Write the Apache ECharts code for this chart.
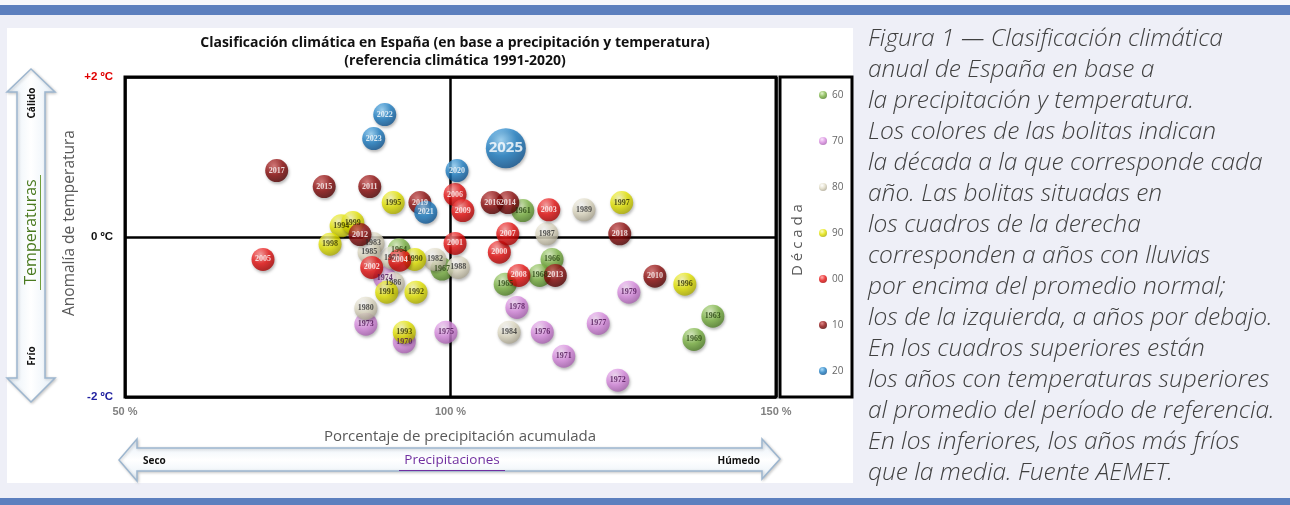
<!DOCTYPE html>
<html><head><meta charset="utf-8">
<script src="https://cdn.jsdelivr.net/npm/echarts@6/dist/echarts.min.js"></script>
<style>html,body{margin:0;padding:0;background:#eeeff7;}#c{width:1290px;height:505px;}</style>
</head><body><div id="c"></div>
<script>
// [year, precipitation %, temperature anomaly ºC]
const d60 = [[1961,111.1,0.33],[1963,140.3,-0.99],[1964,92.1,-0.16],[1965,108.4,-0.59],[1966,115.6,-0.28],[1967,98.7,-0.40],[1968,113.7,-0.48],[1969,137.4,-1.28]];
const d70 = [[1970,92.9,-1.31],[1971,117.4,-1.49],[1972,125.7,-1.79],[1973,87.0,-1.09],[1974,89.9,-0.51],[1975,99.3,-1.19],[1976,114.1,-1.19],[1977,122.7,-1.08],[1978,110.2,-0.88],[1979,127.4,-0.69]];
const d80 = [[1980,87.0,-0.89],[1981,91.0,-0.26],[1982,97.6,-0.28],[1983,88.1,-0.08],[1984,109.0,-1.19],[1985,87.5,-0.19],[1986,91.2,-0.58],[1987,114.8,0.04],[1988,101.2,-0.38],[1989,120.5,0.34]];
const d90 = [[1990,94.5,-0.28],[1991,90.2,-0.69],[1992,94.7,-0.69],[1993,92.9,-1.19],[1994,83.2,0.14],[1995,91.2,0.43],[1996,136.0,-0.59],[1997,126.3,0.43],[1998,81.5,-0.09],[1999,85.0,0.18]];
const d00 = [[2000,107.5,-0.19],[2001,100.7,-0.08],[2002,87.9,-0.38],[2003,115.1,0.34],[2004,92.2,-0.29],[2005,71.2,-0.28],[2006,100.7,0.53],[2007,108.8,0.04],[2008,110.5,-0.48],[2009,101.9,0.33]];
const d10 = [[2010,131.4,-0.49],[2011,87.6,0.63],[2012,86.1,0.03],[2013,116.1,-0.48],[2014,108.8,0.43],[2015,80.6,0.63],[2016,106.4,0.43],[2017,73.3,0.83],[2018,126.0,0.04],[2019,95.3,0.43]];
const d20 = [[2020,101.0,0.83],[2021,96.2,0.31],[2022,89.9,1.53],[2023,88.2,1.23],[2025,108.5,1.11]];
const decadeNames = ['60','70','80','90','00','10','20'];
const xTickValues = [50,100,150];
const xTickLabels = ['50 %','100 %','150 %'];
const yTickValues = [-2,0,2];
const yTickLabels = ['-2 ºC','0 ºC','+2 ºC'];
const highlightYear = 2025;

const decadeData = [d60,d70,d80,d90,d00,d10,d20];
const pal = [
  {b:'#7cb444',l:'#dcf2c0',d:'#477520',t:'#1e3a08'},
  {b:'#d98be0',l:'#f8e0fa',d:'#a05aa8',t:'#4a1050'},
  {b:'#e0dbc4',l:'#ffffff',d:'#a29c88',t:'#2a2a2a'},
  {b:'#e4e400',l:'#fcfcb8',d:'#a3a300',t:'#2a2a00'},
  {b:'#e81212',l:'#ff9c9c',d:'#9e0000',t:'#ffffff'},
  {b:'#8c0c0c',l:'#d86a6a',d:'#480000',t:'#ffffff'},
  {b:'#1f7fc4',l:'#96d4fa',d:'#0c4c86',t:'#ffffff'}
];
function ball(p){return {type:'radial',x:0.38,y:0.3,r:0.78,colorStops:[{offset:0,color:p.l},{offset:0.5,color:p.b},{offset:1,color:p.d}]};}

const series = decadeData.map((arr,i)=>({
  type:'scatter', name:decadeNames[i], symbolSize:23,
  itemStyle:{color:ball(pal[i]),shadowBlur:3,shadowColor:'rgba(0,0,0,0.35)',shadowOffsetX:1,shadowOffsetY:2},
  label:{show:true,position:'inside',formatter:p=>String(p.data.value[2]),fontSize:8,fontWeight:'bold',fontFamily:'Liberation Serif',color:pal[i].t},
  emphasis:{disabled:true},
  data:arr.map(r=>{
    const it={value:[r[1],r[2],r[0]]};
    if(r[0]===highlightYear){it.symbolSize=40;it.label={fontSize:15,fontFamily:'Open Sans',fontWeight:'bold'};}
    return it;
  })
}));

const arrowStroke='#9db6cf';
const arrowFill={type:'linear',x:0,y:0,x2:1,y2:0,colorStops:[{offset:0,color:'#e4eef7'},{offset:0.5,color:'#ffffff'},{offset:1,color:'#e4eef7'}]};
const arrowFillH={type:'linear',x:0,y:0,x2:0,y2:1,colorStops:[{offset:0,color:'#e4eef7'},{offset:0.5,color:'#ffffff'},{offset:1,color:'#e4eef7'}]};

const caption=['Figura 1 — Clasificación climática','anual de España en base a','la precipitación y temperatura.','Los colores de las bolitas indican','la década a la que corresponde cada','año. Las bolitas situadas en','los cuadros de la derecha','corresponden a años con lluvias','por encima del promedio normal;','los de la izquierda, a años por debajo.','En los cuadros superiores están','los años con temperaturas superiores','al promedio del período de referencia.','En los inferiores, los años más fríos','que la media. Fuente AEMET.'];

// fit caption font so that its widest line spans the same width as in the reference
const capFont='Open Sans';
const mctx=document.createElement('canvas').getContext('2d');
mctx.font='italic 300 100px "'+capFont+'"';
const widest=Math.max(...caption.map(s=>mctx.measureText(s).width));
const capSize=Math.max(16,Math.min(28,100*407/widest));

const chart=echarts.init(document.getElementById('c'),null,{renderer:'canvas'});
chart.setOption({
  animation:false,
  backgroundColor:'#eeeff7',
  title:{text:'Clasificación climática en España (en base a precipitación y temperatura)\n(referencia climática 1991-2020)',left:450,textAlign:'center',top:29,
    textStyle:{fontFamily:'Open Sans',fontSize:14,fontWeight:'bold',color:'#111',lineHeight:18}},
  legend:{data:decadeNames,orient:'vertical',left:814,top:85,itemWidth:8,itemHeight:8,itemGap:36,icon:'circle',
    textStyle:{fontFamily:'Open Sans',fontSize:10,color:'#666'},selectedMode:false},
  grid:{left:125,top:77,right:514,bottom:108,show:false},
  xAxis:{type:'value',min:50,max:150,interval:50,
    axisLine:{show:false},axisTick:{show:false},
    splitLine:{show:true,lineStyle:{color:'#000',width:2.5}},
    axisLabel:{margin:9,fontFamily:'Liberation Sans',fontSize:11,fontWeight:'bold',color:'#808080',
      formatter:v=>xTickLabels[xTickValues.indexOf(v)]}},
  yAxis:{type:'value',min:-2,max:2,interval:2,
    axisLine:{show:false},axisTick:{show:false},
    splitLine:{show:true,lineStyle:{color:'#000',width:2.5}},
    axisLabel:{margin:12,fontFamily:'Liberation Sans',fontSize:11.5,fontWeight:'bold',
      formatter:v=>{const s=yTickLabels[yTickValues.indexOf(v)];return v>0?'{r|'+s+'}':(v<0?'{b|'+s+'}':'{k|'+s+'}');},
      rich:{r:{color:'#e00000',fontSize:11.5,fontWeight:'bold',fontFamily:'Liberation Sans'},k:{color:'#111',fontSize:11.5,fontWeight:'bold',fontFamily:'Liberation Sans'},b:{color:'#2020a0',fontSize:11.5,fontWeight:'bold',fontFamily:'Liberation Sans'}}}},
  graphic:[
    {type:'rect',z:-10,silent:true,shape:{x:0,y:0,width:1290,height:5},style:{fill:'#f6f7fb'}},
    {type:'rect',z:-10,silent:true,shape:{x:0,y:5,width:1290,height:10},style:{fill:'#5c7fbe'}},
    {type:'rect',z:-10,silent:true,shape:{x:0,y:498,width:1290,height:7},style:{fill:'#5c7fbe'}},
    {type:'rect',z:-10,silent:true,shape:{x:7,y:28,width:846,height:455},style:{fill:'#ffffff'}},
    {type:'rect',z:5,silent:true,shape:{x:125,y:77,width:651,height:320},style:{fill:null,stroke:'#000',lineWidth:3}},
    {type:'rect',z:5,silent:true,shape:{x:780,y:77,width:72,height:320},style:{fill:null,stroke:'#000',lineWidth:3}},
    {type:'text',silent:true,x:798,y:240,rotation:Math.PI/2,style:{text:'D é c a d a',fontFamily:'Open Sans',fontSize:15,fill:'#595959',align:'center',verticalAlign:'middle'}},
    // vertical arrow
    {type:'polygon',silent:true,shape:{points:[[31,69],[55,92],[45,92],[45,378],[55,378],[31,402],[7,378],[17,378],[17,92],[7,92]]},
      style:{fill:arrowFill,stroke:arrowStroke,lineWidth:1.5,shadowBlur:3,shadowColor:'rgba(0,0,0,0.2)',shadowOffsetX:1,shadowOffsetY:1}},
    {type:'text',silent:true,x:32,y:103,rotation:Math.PI/2,style:{text:'Cálido',fontFamily:'Open Sans',fontSize:10,fontWeight:'bold',fill:'#111',align:'center',verticalAlign:'middle'}},
    {type:'text',silent:true,x:32,y:356,rotation:Math.PI/2,style:{text:'Frío',fontFamily:'Open Sans',fontSize:10,fontWeight:'bold',fill:'#111',align:'center',verticalAlign:'middle'}},
    {type:'text',silent:true,x:31,y:232,rotation:Math.PI/2,style:{text:'Temperaturas',fontFamily:'Open Sans',fontSize:16,fill:'#4a7a20',align:'center',verticalAlign:'middle'}},
    {type:'line',silent:true,shape:{x1:40.5,y1:175,x2:40.5,y2:290},style:{stroke:'#6f9f3c',lineWidth:1}},
    {type:'text',silent:true,x:70,y:223,rotation:Math.PI/2,style:{text:'Anomalía de temperatura',fontFamily:'Open Sans',fontSize:15.5,fill:'#595959',align:'center',verticalAlign:'middle'}},
    // horizontal arrow
    {type:'polygon',silent:true,shape:{points:[[119,460],[137,439],[137,448],[762,448],[762,439],[780,459],[762,479],[762,471],[137,471],[137,481]]},
      style:{fill:arrowFillH,stroke:arrowStroke,lineWidth:1.5,shadowBlur:3,shadowColor:'rgba(0,0,0,0.2)',shadowOffsetX:1,shadowOffsetY:1}},
    {type:'text',silent:true,x:460,y:437,style:{text:'Porcentaje de precipitación acumulada',fontFamily:'Open Sans',fontSize:15,fill:'#595959',align:'center',verticalAlign:'middle'}},
    {type:'text',silent:true,x:452,y:460,style:{text:'Precipitaciones',fontFamily:'Open Sans',fontSize:13.5,fill:'#7030a0',align:'center',verticalAlign:'middle'}},
    {type:'line',silent:true,shape:{x1:399,y1:470.5,x2:505,y2:470.5},style:{stroke:'#7030a0',lineWidth:1}},
    {type:'text',silent:true,x:143,y:461,style:{text:'Seco',fontFamily:'Open Sans',fontSize:10,fontWeight:'bold',fill:'#111',align:'left',verticalAlign:'middle'}},
    {type:'text',silent:true,x:760,y:461,style:{text:'Húmedo',fontFamily:'Open Sans',fontSize:10,fontWeight:'bold',fill:'#111',align:'right',verticalAlign:'middle'}},
    // caption
    {type:'text',silent:true,x:868,y:39,style:{text:caption.join('\n'),fontFamily:capFont,fontSize:capSize,fontStyle:'italic',fontWeight:300,fill:'#404040',lineHeight:31,align:'left',verticalAlign:'top'},
      // shift up by half a line so the first line is centred on y=39
      y:39-15.5}
  ],
  series:series
});
</script></body></html>
